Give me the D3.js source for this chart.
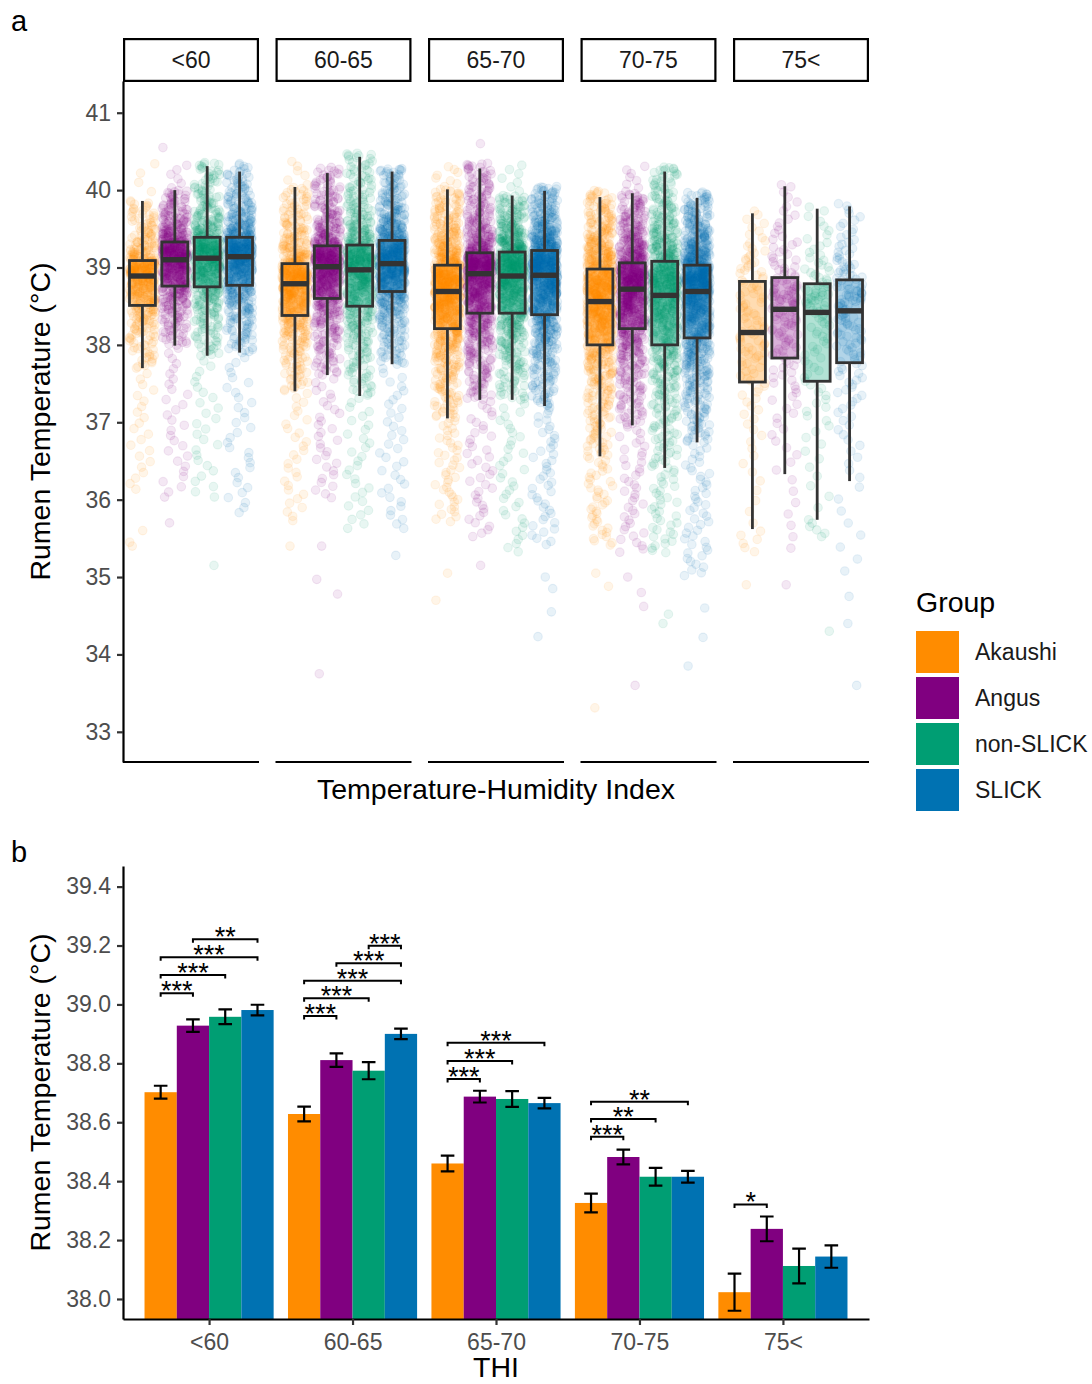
<!DOCTYPE html>
<html>
<head>
<meta charset="utf-8">
<script src="https://cdn.jsdelivr.net/npm/d3@7"></script>
<style>
  body { margin: 0; background: #fff; }
  svg { display: block; font-family: "Liberation Sans", Arial, sans-serif; }
</style>
</head>
<body>
<svg id="fig" width="1092" height="1384"></svg>
<script>
// ---------------- data ----------------
const thiBins = ["<60", "60-65", "65-70", "70-75", "75<"];
const groups = ["Akaushi", "Angus", "non-SLICK", "SLICK"];
const groupColors = ["#FF8C00", "#800080", "#009E73", "#0072B2"];

// Panel a: rumen temperature distribution per THI bin (rows) and group (columns), °C
const whiskerLow = [
  [37.70, 37.99, 37.86, 37.90],
  [37.40, 37.61, 37.34, 37.75],
  [37.05, 37.29, 37.29, 37.21],
  [36.56, 36.96, 36.41, 36.74],
  [35.62, 36.33, 35.74, 36.24]
];
const boxQ1 = [
  [38.51, 38.76, 38.75, 38.77],
  [38.38, 38.60, 38.50, 38.69],
  [38.21, 38.41, 38.41, 38.39],
  [38.00, 38.21, 38.00, 38.09],
  [37.52, 37.83, 37.53, 37.77]
];
const boxMedian = [
  [38.89, 39.10, 39.12, 39.14],
  [38.79, 39.01, 38.97, 39.05],
  [38.69, 38.92, 38.89, 38.90],
  [38.56, 38.72, 38.64, 38.69],
  [38.16, 38.46, 38.42, 38.44]
];
const boxQ3 = [
  [39.09, 39.33, 39.39, 39.39],
  [39.05, 39.28, 39.29, 39.35],
  [39.03, 39.19, 39.20, 39.22],
  [38.98, 39.06, 39.08, 39.03],
  [38.82, 38.87, 38.79, 38.84]
];
const whiskerHigh = [
  [39.86, 40.00, 40.31, 40.24],
  [40.04, 40.22, 40.43, 40.24],
  [40.01, 40.28, 39.93, 39.99],
  [39.91, 39.96, 40.24, 39.90],
  [39.70, 40.05, 39.76, 39.79]
];
// extent of the continuous part of each point cloud
const cloudMin = [
  [36.10, 36.00, 36.00, 35.80],
  [35.70, 36.00, 35.60, 35.60],
  [35.70, 35.50, 35.30, 35.40],
  [35.40, 35.30, 35.30, 35.00],
  [35.30, 35.30, 35.50, 35.00]
];
const cloudMax = [
  [40.40, 40.35, 40.36, 40.35],
  [40.40, 40.30, 40.48, 40.28],
  [40.32, 40.35, 40.35, 40.05],
  [40.00, 40.33, 40.30, 39.98],
  [39.75, 40.08, 39.80, 39.84]
];
// number of daily readings per cell
const cloudCount = [
  [450, 600, 550, 650],
  [600, 650, 600, 750],
  [850, 800, 750, 900],
  [850, 800, 750, 950],
  [120, 140, 110, 160]
];
// isolated readings far from the bulk of each cloud
const isolatedReadings = [
  { bin: "<60", group: "Akaushi", value: 35.60 },
  { bin: "<60", group: "Akaushi", value: 35.45 },
  { bin: "<60", group: "Akaushi", value: 35.40 },
  { bin: "<60", group: "Angus", value: 35.70 },
  { bin: "<60", group: "Angus", value: 40.55 },
  { bin: "<60", group: "non-SLICK", value: 35.15 },
  { bin: "60-65", group: "Akaushi", value: 35.40 },
  { bin: "60-65", group: "Angus", value: 35.40 },
  { bin: "60-65", group: "Angus", value: 34.97 },
  { bin: "60-65", group: "Angus", value: 34.78 },
  { bin: "60-65", group: "Angus", value: 33.75 },
  { bin: "60-65", group: "SLICK", value: 35.28 },
  { bin: "65-70", group: "Akaushi", value: 35.05 },
  { bin: "65-70", group: "Akaushi", value: 34.70 },
  { bin: "65-70", group: "Angus", value: 35.15 },
  { bin: "65-70", group: "Angus", value: 40.60 },
  { bin: "65-70", group: "SLICK", value: 35.00 },
  { bin: "65-70", group: "SLICK", value: 34.85 },
  { bin: "65-70", group: "SLICK", value: 34.55 },
  { bin: "65-70", group: "SLICK", value: 34.23 },
  { bin: "70-75", group: "Akaushi", value: 35.05 },
  { bin: "70-75", group: "Akaushi", value: 34.88 },
  { bin: "70-75", group: "Akaushi", value: 33.31 },
  { bin: "70-75", group: "Angus", value: 35.00 },
  { bin: "70-75", group: "Angus", value: 34.80 },
  { bin: "70-75", group: "Angus", value: 34.62 },
  { bin: "70-75", group: "Angus", value: 33.60 },
  { bin: "70-75", group: "non-SLICK", value: 34.52 },
  { bin: "70-75", group: "non-SLICK", value: 34.40 },
  { bin: "70-75", group: "SLICK", value: 34.60 },
  { bin: "70-75", group: "SLICK", value: 34.22 },
  { bin: "70-75", group: "SLICK", value: 33.85 },
  { bin: "75<", group: "Akaushi", value: 34.90 },
  { bin: "75<", group: "Angus", value: 34.90 },
  { bin: "75<", group: "non-SLICK", value: 34.30 },
  { bin: "75<", group: "SLICK", value: 34.75 },
  { bin: "75<", group: "SLICK", value: 34.40 },
  { bin: "75<", group: "SLICK", value: 33.60 }
];
// cumulative share of readings at each cloud landmark (min, low whisker, Q1, median, Q3, high whisker, max)
const quantileLevels = [0, 0.05, 0.25, 0.5, 0.75, 0.99, 1];
const tempTicksA = [33, 34, 35, 36, 37, 38, 39, 40, 41];

// Panel b: mean rumen temperature ± SE
const meanTemp = [
  [38.702, 38.928, 38.958, 38.981],
  [38.628, 38.811, 38.775, 38.900],
  [38.460, 38.687, 38.679, 38.665],
  [38.326, 38.482, 38.415, 38.415],
  [38.023, 38.238, 38.112, 38.144]
];
const seTemp = [
  [0.022, 0.021, 0.025, 0.018],
  [0.025, 0.023, 0.029, 0.018],
  [0.027, 0.020, 0.027, 0.018],
  [0.032, 0.025, 0.030, 0.020],
  [0.063, 0.042, 0.059, 0.038]
];
const tempTicksB = [38.0, 38.2, 38.4, 38.6, 38.8, 39.0, 39.2, 39.4];
// pairwise comparisons: bracket level (°C) and significance code
const comparisons = [
  { bin: "<60", from: "Akaushi", to: "Angus", level: 39.038, label: "***" },
  { bin: "<60", from: "Akaushi", to: "non-SLICK", level: 39.100, label: "***" },
  { bin: "<60", from: "Akaushi", to: "SLICK", level: 39.160, label: "***" },
  { bin: "<60", from: "Angus", to: "SLICK", level: 39.221, label: "**" },
  { bin: "60-65", from: "Akaushi", to: "Angus", level: 38.961, label: "***" },
  { bin: "60-65", from: "Akaushi", to: "non-SLICK", level: 39.021, label: "***" },
  { bin: "60-65", from: "Akaushi", to: "SLICK", level: 39.080, label: "***" },
  { bin: "60-65", from: "Angus", to: "SLICK", level: 39.140, label: "***" },
  { bin: "60-65", from: "non-SLICK", to: "SLICK", level: 39.199, label: "***" },
  { bin: "65-70", from: "Akaushi", to: "Angus", level: 38.747, label: "***" },
  { bin: "65-70", from: "Akaushi", to: "non-SLICK", level: 38.808, label: "***" },
  { bin: "65-70", from: "Akaushi", to: "SLICK", level: 38.870, label: "***" },
  { bin: "70-75", from: "Akaushi", to: "Angus", level: 38.551, label: "***" },
  { bin: "70-75", from: "Akaushi", to: "non-SLICK", level: 38.611, label: "**" },
  { bin: "70-75", from: "Akaushi", to: "SLICK", level: 38.670, label: "**" },
  { bin: "75<", from: "Akaushi", to: "Angus", level: 38.321, label: "*" }
];

// ---------------- drawing ----------------
const svg = d3.select("#fig");
const color = d3.scaleOrdinal().domain(groups).range(groupColors);
const AXIS_W = 2.2, TICK_FS = 23, TITLE_FS = 28.5, TEXT_GREY = "#4d4d4d";

// deterministic horizontal jitter
function jitter01(n) {
  let x = Math.imul((n + 1) ^ 0x9e3779b9, 0x85ebca6b);
  x ^= x >>> 13; x = Math.imul(x, 0xc2b2ae35); x ^= x >>> 16;
  return (x >>> 0) / 4294967296;
}

// Quantile function through the landmarks: linear in the two outer tails,
// smooth monotone cubic between the whisker ends (tapering toward them).
function cloudQuantile(ps, vs) {
  const n = ps.length, lo = 1, hi = n - 2;
  const d = [];
  for (let i = 0; i < n - 1; i++) d.push((vs[i + 1] - vs[i]) / (ps[i + 1] - ps[i]));
  const m = new Array(n).fill(0);
  m[lo] = 2 * d[lo];
  m[hi] = 2 * d[hi - 1];
  for (let i = lo + 1; i < hi; i++) {
    const h0 = ps[i] - ps[i - 1], h1 = ps[i + 1] - ps[i];
    m[i] = (d[i - 1] * d[i] <= 0) ? 0 : 3 * (h0 + h1) / ((2 * h1 + h0) / d[i - 1] + (h1 + 2 * h0) / d[i]);
  }
  return p => {
    const i = Math.min(n - 2, Math.max(0, d3.bisectRight(ps, p) - 1));
    const h = ps[i + 1] - ps[i], t = (p - ps[i]) / h;
    if (i < lo || i >= hi) return vs[i] + t * (vs[i + 1] - vs[i]);
    const t2 = t * t, t3 = t2 * t;
    return (2 * t3 - 3 * t2 + 1) * vs[i] + (t3 - 2 * t2 + t) * h * m[i]
         + (-2 * t3 + 3 * t2) * vs[i + 1] + (t3 - t2) * h * m[i + 1];
  };
}

function styleAxis(sel) {
  sel.selectAll(".domain").attr("stroke", "#000").attr("stroke-width", AXIS_W);
  sel.selectAll(".tick line").attr("stroke", "#333").attr("stroke-width", AXIS_W);
  sel.selectAll(".tick text").attr("fill", TEXT_GREY).attr("font-size", TICK_FS)
    .attr("font-family", "Liberation Sans, Arial, sans-serif");
}

// ===== Panel a =====
const A = { left: 123, right: 869, top: 81, bottom: 762, gap: 16.5 };
const facetW = (A.right - A.left - 4 * A.gap) / 5;
const yA = d3.scaleLinear().domain([32.61, 41.41]).range([A.bottom, A.top]);

svg.append("text").attr("x", 11).attr("y", 31).attr("font-size", 29).text("a");

const pointsLayer = svg.append("g");
const boxLayer = svg.append("g");
let seed = 0;

thiBins.forEach((bin, b) => {
  const x0 = A.left + b * (facetW + A.gap);
  const xg = d3.scalePoint().domain(groups).range([x0, x0 + facetW]).padding(0.6);
  const step = xg.step();

  // strip
  svg.append("rect").attr("x", x0 + 1.1).attr("y", 39.1)
    .attr("width", facetW - 2.2).attr("height", 41.8)
    .attr("fill", "#fff").attr("stroke", "#000").attr("stroke-width", AXIS_W);
  svg.append("text").attr("x", x0 + facetW / 2).attr("y", 60).attr("dy", "0.35em")
    .attr("text-anchor", "middle").attr("font-size", TICK_FS).attr("fill", "#1a1a1a").text(bin);

  // bottom axis line of the facet
  svg.append("line").attr("x1", x0).attr("x2", x0 + facetW)
    .attr("y1", A.bottom).attr("y2", A.bottom).attr("stroke", "#000").attr("stroke-width", AXIS_W);

  groups.forEach((grp, k) => {
    const q = cloudQuantile(quantileLevels, [
      cloudMin[b][k], whiskerLow[b][k], boxQ1[b][k], boxMedian[b][k],
      boxQ3[b][k], whiskerHigh[b][k], cloudMax[b][k]
    ]);
    const n = cloudCount[b][k];
    const vals = d3.range(n).map(i => q((i + 0.5) / n));
    isolatedReadings.filter(o => o.bin === bin && o.group === grp).forEach(o => vals.push(o.value));

    const cx = xg(grp);
    pointsLayer.append("g").selectAll("circle").data(vals).join("circle")
      .attr("cx", () => cx + (jitter01(seed++) - 0.5) * 0.8 * step)
      .attr("cy", d => yA(d))
      .attr("r", 4.3)
      .attr("fill", color(grp)).attr("fill-opacity", 0.09)
      .attr("stroke", color(grp)).attr("stroke-opacity", 0.09).attr("stroke-width", 1.1);

    // boxplot
    const bw = 0.8 * step;
    const bx = boxLayer.append("g");
    bx.append("line").attr("x1", cx).attr("x2", cx)
      .attr("y1", yA(whiskerHigh[b][k])).attr("y2", yA(boxQ3[b][k]))
      .attr("stroke", "#333").attr("stroke-width", 2.8);
    bx.append("line").attr("x1", cx).attr("x2", cx)
      .attr("y1", yA(boxQ1[b][k])).attr("y2", yA(whiskerLow[b][k]))
      .attr("stroke", "#333").attr("stroke-width", 2.8);
    bx.append("rect").attr("x", cx - bw / 2).attr("width", bw)
      .attr("y", yA(boxQ3[b][k])).attr("height", yA(boxQ1[b][k]) - yA(boxQ3[b][k]))
      .attr("fill", color(grp)).attr("fill-opacity", 0.3)
      .attr("stroke", "#333").attr("stroke-width", 2.8);
    bx.append("line").attr("x1", cx - bw / 2).attr("x2", cx + bw / 2)
      .attr("y1", yA(boxMedian[b][k])).attr("y2", yA(boxMedian[b][k]))
      .attr("stroke", "#333").attr("stroke-width", 5.4);
  });
});

const yAxisA = svg.append("g").attr("transform", `translate(${A.left},0)`)
  .call(d3.axisLeft(yA).tickValues(tempTicksA).tickSize(6).tickSizeOuter(0).tickPadding(6));
styleAxis(yAxisA);

svg.append("text").attr("transform", `translate(50,${(A.top + A.bottom) / 2}) rotate(-90)`)
  .attr("text-anchor", "middle").attr("font-size", TITLE_FS).text("Rumen Temperature (°C)");
svg.append("text").attr("x", (A.left + A.right) / 2).attr("y", 799)
  .attr("text-anchor", "middle").attr("font-size", TITLE_FS).text("Temperature-Humidity Index");

// legend
const legend = svg.append("g").attr("transform", "translate(916,0)");
legend.append("text").attr("x", 0).attr("y", 612).attr("font-size", TITLE_FS).text("Group");
groups.forEach((grp, k) => {
  const y0 = 631 + k * 46;
  legend.append("rect").attr("x", 0).attr("y", y0).attr("width", 43).attr("height", 42).attr("fill", color(grp));
  legend.append("text").attr("x", 59).attr("y", y0 + 21).attr("dy", "0.35em")
    .attr("font-size", TICK_FS).attr("fill", "#1a1a1a").text(grp);
});

// ===== Panel b =====
const B = { left: 123, right: 869, top: 866, bottom: 1319 };
const yB = d3.scaleLinear().domain([37.932, 39.47]).range([B.bottom, B.top]);
const xB = d3.scalePoint().domain(thiBins).range([B.left, B.right]).padding(0.6);
const stepB = xB.step();
const xInner = d3.scaleBand().domain(groups).range([-0.45 * stepB, 0.45 * stepB]);
const barCenter = (bin, grp) => xB(bin) + xInner(grp) + xInner.bandwidth() / 2;

svg.append("text").attr("x", 11).attr("y", 862).attr("font-size", 29).text("b");

const bars = svg.append("g");
thiBins.forEach((bin, b) => {
  groups.forEach((grp, k) => {
    bars.append("rect")
      .attr("x", xB(bin) + xInner(grp)).attr("width", xInner.bandwidth())
      .attr("y", yB(meanTemp[b][k])).attr("height", B.bottom - yB(meanTemp[b][k]))
      .attr("fill", color(grp));
  });
});

// error bars
const errs = svg.append("g").attr("stroke", "#000").attr("stroke-width", 2.2).attr("fill", "none");
thiBins.forEach((bin, b) => {
  groups.forEach((grp, k) => {
    const cx = barCenter(bin, grp), cap = 6.8;
    const hi = yB(meanTemp[b][k] + seTemp[b][k]), lo = yB(meanTemp[b][k] - seTemp[b][k]);
    errs.append("path").attr("d",
      `M${cx - cap},${hi}H${cx + cap}M${cx},${hi}V${lo}M${cx - cap},${lo}H${cx + cap}`);
  });
});

// significance brackets
const sig = svg.append("g");
comparisons.forEach(c => {
  const x1 = barCenter(c.bin, c.from), x2 = barCenter(c.bin, c.to), y = yB(c.level), tip = 3.5;
  sig.append("path").attr("d", `M${x1},${y + tip}V${y}H${x2}V${y + tip}`)
    .attr("fill", "none").attr("stroke", "#000").attr("stroke-width", 2);
  sig.append("text").attr("x", (x1 + x2) / 2).attr("y", y + 7)
    .attr("text-anchor", "middle").attr("font-size", 27).text(c.label);
});

const yAxisB = svg.append("g").attr("transform", `translate(${B.left},0)`)
  .call(d3.axisLeft(yB).tickValues(tempTicksB).tickFormat(d3.format(".1f"))
    .tickSize(6).tickSizeOuter(0).tickPadding(6));
styleAxis(yAxisB);
const xAxisB = svg.append("g").attr("transform", `translate(0,${B.bottom})`)
  .call(d3.axisBottom(xB).tickSize(6).tickSizeOuter(0).tickPadding(9));
styleAxis(xAxisB);

svg.append("text").attr("transform", `translate(50,${(B.top + B.bottom) / 2}) rotate(-90)`)
  .attr("text-anchor", "middle").attr("font-size", TITLE_FS).text("Rumen Temperature (°C)");
svg.append("text").attr("x", (B.left + B.right) / 2).attr("y", 1377)
  .attr("text-anchor", "middle").attr("font-size", TITLE_FS).text("THI");
</script>
</body>
</html>
